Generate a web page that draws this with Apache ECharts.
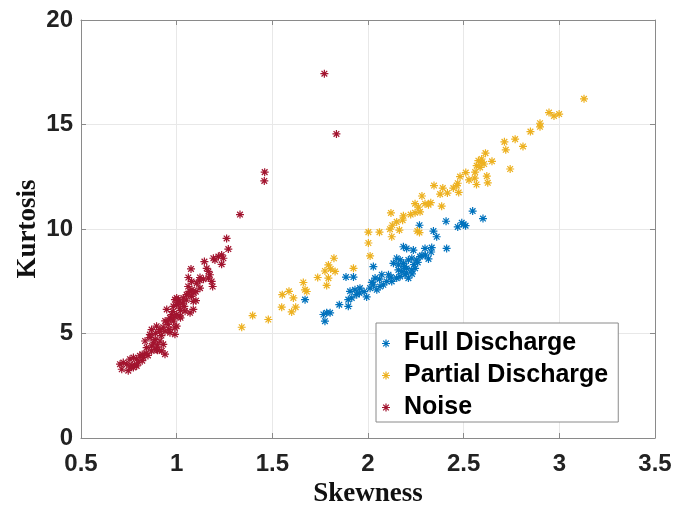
<!DOCTYPE html>
<html>
<head>
<meta charset="utf-8">
<script src="https://cdn.jsdelivr.net/npm/echarts@6/dist/echarts.min.js"></script>
<style>html,body{margin:0;padding:0;background:#fff}#c{width:675px;height:513px}</style>
</head>
<body>
<div id="c"></div>
<script>
var seriesNames = ['Full Discharge', 'Partial Discharge', 'Noise'];
var xTickValues = [0.5, 1, 1.5, 2, 2.5, 3, 3.5];
var yTickValues = [0, 5, 10, 15, 20];

var fullDischarge = [
  [2.547,10.86],[2.601,10.50],[2.49,10.30],[2.50,10.22],[2.51,10.16],[2.469,10.10],[2.408,10.37],[2.269,10.18],
  [2.342,9.90],[2.359,9.63],[2.411,9.07],[2.185,9.15],[2.202,9.07],[2.237,8.99],[2.298,9.07],[2.333,9.11],
  [2.281,8.73],[2.316,8.57],[2.150,8.60],[2.168,8.52],[2.133,8.36],[2.159,8.28],[2.185,8.36],[2.211,8.52],
  [2.229,8.60],[2.255,8.52],[2.272,8.68],[2.159,8.04],[2.176,7.97],[2.202,8.12],[2.229,8.04],[2.246,8.12],
  [2.168,7.73],[2.194,7.81],[2.211,7.65],[2.150,7.65],[2.124,7.49],[2.028,8.20],[1.885,7.70],[1.924,7.70],
  [2.072,7.81],[2.107,7.81],[2.037,7.65],[2.098,7.49],[2.080,7.33],[2.063,7.25],[2.028,7.33],[2.011,7.17],
  [2.046,7.09],[1.958,7.17],[1.932,7.09],[1.906,7.02],[1.941,6.86],[1.915,6.70],[1.897,6.62],[1.955,6.94],
  [1.993,6.75],[1.850,6.38],[1.897,6.30],[1.671,6.62],[1.767,5.91],[1.784,5.99],[1.802,5.99],[1.775,5.59],
  [2.19,8.20],[2.24,8.30],[2.26,8.40],[2.20,7.90],[2.23,7.85],[2.12,7.70],[2.06,7.60],[2.02,7.45],
  [1.98,7.00],[2.30,8.75],[2.33,8.90]
];

var partialDischarge = [
  [1.822,8.60],[1.793,8.28],[1.775,7.99],[1.805,8.09],[1.828,7.97],[1.924,8.12],[1.737,7.68],[1.793,7.65],
  [1.662,7.44],[1.671,7.09],[1.680,7.01],[1.784,7.30],[1.552,6.86],[1.587,7.02],[1.610,6.70],[1.549,6.26],
  [1.601,6.03],[1.622,6.26],[1.479,5.67],[1.397,5.86],[1.340,5.30],
  [3.129,16.23],[2.946,15.57],[2.972,15.41],[2.999,15.50],[2.899,15.06],[2.899,14.89],[2.849,14.66],
  [2.713,14.17],[2.769,14.30],[2.720,13.79],[2.810,13.95],[2.614,13.63],[2.577,13.27],[2.594,13.19],
  [2.568,13.03],[2.586,12.95],[2.607,13.11],[2.648,13.24],[2.594,13.35],[2.743,12.87],[2.621,12.53],
  [2.626,12.21],[2.511,12.70],[2.560,12.72],[2.558,12.43],[2.567,12.13],[2.481,12.51],[2.469,12.19],
  [2.464,12.08],[2.446,11.96],[2.474,11.75],[2.528,12.35],[2.415,11.72],[2.377,11.67],[2.391,11.96],
  [2.345,12.08],[2.282,11.58],[2.246,11.21],[2.263,11.05],[2.298,11.21],[2.316,11.16],[2.328,11.26],
  [2.385,11.09],[2.223,10.69],[2.246,10.78],[2.272,10.82],[2.120,10.77],[2.185,10.63],[2.181,10.42],
  [2.150,10.34],[2.164,9.95],[2.127,10.18],[2.258,9.90],[2.269,9.83],[2.115,9.99],[2.124,9.63],
  [2.002,9.85],[2.060,9.85],[2.002,9.33],[2.011,8.71]
];

var noise = [
  [1.261,9.55],[1.270,9.04],[1.235,8.76],[1.218,8.68],[1.192,8.60],[1.200,8.52],[1.244,8.60],[1.235,8.31],
  [1.145,8.44],[1.075,8.09],[1.157,8.12],[1.166,7.97],[1.174,7.81],[1.166,7.65],[1.122,7.68],[1.061,7.68],
  [1.078,7.49],[1.183,7.49],[1.188,7.25],[1.105,7.41],[1.122,7.17],[1.070,7.02],[1.052,6.86],[1.035,6.70],
  [1.009,6.62],[0.991,6.62],[1.078,6.78],[1.087,6.54],[1.101,6.57],[0.948,6.15],[0.983,6.30],[1.000,6.38],
  [1.017,6.22],[0.974,5.91],[1.000,5.91],[1.017,5.83],[1.044,6.07],[1.070,5.99],[1.087,6.15],[0.965,5.75],
  [0.983,5.59],[1.000,5.35],[0.991,5.27],[0.956,5.43],[0.869,5.19],[0.895,5.35],[0.913,5.19],[0.939,5.11],
  [0.965,5.04],[0.991,4.96],[0.835,4.64],[0.861,4.80],[0.887,4.72],[0.913,4.64],[0.930,4.48],[0.939,4.01],
  [0.843,4.32],[0.869,4.17],[0.895,4.24],[0.922,4.17],[0.808,3.93],[0.826,3.85],[0.791,3.77],[0.774,3.85],
  [0.756,3.77],[0.721,3.61],[0.739,3.53],[0.765,3.45],[0.704,3.53],[0.713,3.29],[0.747,3.22],[0.774,3.37],
  [0.791,3.45],
  [0.80,3.60],[0.82,3.70],[0.85,3.95],[0.84,4.05],[0.87,4.40],[0.88,4.55],[0.90,4.45],[0.86,4.95],
  [0.89,5.00],[0.92,4.90],[0.93,5.30],[0.95,5.55],[0.97,5.70],[0.94,5.60],[0.99,5.80],[1.02,6.10],
  [1.04,6.30],[1.01,6.50],[1.05,6.60],[1.03,6.45],[1.06,6.90],[1.08,7.10],[1.09,6.95],[1.10,7.00],
  [1.12,7.55],[1.14,7.60],[0.78,3.50],[0.76,3.40],[0.82,4.00],[0.90,4.20],[0.91,5.10],[0.96,5.20],
  [0.98,6.05],[1.00,6.70],[1.06,7.25],[1.02,5.75],
  [1.331,10.69],[1.772,17.43],[1.835,14.55],[1.460,12.72],[1.458,12.30]
];

var colors = ['#0072BD', '#EDB120', '#A2142F'];

var ASTERISK = 'path://M-1.5,-10L1.5,-10L1.5,10L-1.5,10Z' +
  'M-10,-1.5L10,-1.5L10,1.5L-10,1.5Z' +
  'M-8.2,-6.0L-6.0,-8.2L8.2,6.0L6.0,8.2Z' +
  'M6.0,-8.2L8.2,-6.0L-6.0,8.2L-8.2,6.0Z';

var chart = echarts.init(document.getElementById('c'), null, {renderer: 'canvas'});

var axisLineStyle = {color: '#8a8a8a', width: 1};
function mkX(pos, show) {
  return {
    type: 'value', position: pos, min: xTickValues[0], max: xTickValues[xTickValues.length - 1], interval: 0.5,
    axisLine: {show: true, onZero: false, lineStyle: axisLineStyle},
    axisTick: {show: true, inside: true, length: 5, lineStyle: axisLineStyle},
    axisLabel: {show: show, margin: 14, color: '#222', fontFamily: 'Liberation Sans, Arial, sans-serif', fontWeight: 'bold', fontSize: 24,
      formatter: function (v) { return String(v); }},
    splitLine: {show: show, lineStyle: {color: '#e8e8e8', width: 1}},
    name: show ? 'Skewness' : '', nameLocation: 'middle', nameGap: 43, nameMoveOverlap: false,
    nameTextStyle: {color: '#111', fontFamily: 'Liberation Serif, Times New Roman, serif', fontWeight: 'bold', fontSize: 27}
  };
}
function mkY(pos, show) {
  return {
    type: 'value', position: pos, min: yTickValues[0], max: yTickValues[yTickValues.length - 1], interval: 5,
    axisLine: {show: true, onZero: false, lineStyle: axisLineStyle},
    axisTick: {show: true, inside: true, length: 5, lineStyle: axisLineStyle},
    axisLabel: {show: show, margin: 8, color: '#222', fontFamily: 'Liberation Sans, Arial, sans-serif', fontWeight: 'bold', fontSize: 24},
    splitLine: {show: show, lineStyle: {color: '#e8e8e8', width: 1}},
    name: show ? 'Kurtosis' : '', nameLocation: 'middle', nameGap: 39, nameMoveOverlap: false,
    nameTextStyle: {color: '#111', fontFamily: 'Liberation Serif, Times New Roman, serif', fontWeight: 'bold', fontSize: 27}
  };
}

var datasets = [fullDischarge, partialDischarge, noise];
var series = datasets.map(function (d, i) {
  return {
    name: seriesNames[i], type: 'scatter', data: d, symbol: ASTERISK, symbolSize: 8,
    itemStyle: {color: colors[i], opacity: 1}, animation: false, z: 3
  };
});

chart.setOption({
  animation: false,
  backgroundColor: '#ffffff',
  grid: {left: 81, right: 20, top: 20, bottom: 72, containLabel: false},
  xAxis: [mkX('bottom', true), mkX('top', false)],
  yAxis: [mkY('left', true), mkY('right', false)],
  legend: {
    orient: 'vertical', left: 376, top: 323,
    data: seriesNames,
    backgroundColor: '#ffffff', borderColor: '#8a8a8a', borderWidth: 1, borderRadius: 0,
    padding: [8, 10, 2, 6],
    itemWidth: 26, itemHeight: 8, itemGap: 7,
    textStyle: {color: '#000', fontFamily: 'Liberation Sans, Arial, sans-serif', fontWeight: 'bold', fontSize: 25, lineHeight: 25},
    selectedMode: false
  },
  series: series
});
</script>
</body>
</html>
